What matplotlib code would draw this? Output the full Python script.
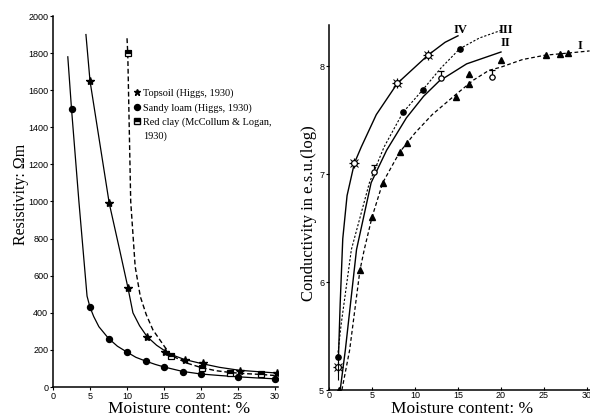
import matplotlib
matplotlib.use("Agg")
import matplotlib.pyplot as plt
from matplotlib.lines import Line2D

SERIF = ['Liberation Serif', 'DejaVu Serif']
SANS = ['Liberation Sans', 'DejaVu Sans']

# ---- left panel: resistivity vs moisture ----
sandy_x = [2.5, 5, 7.6, 10, 12.5, 15, 17.6, 20, 25, 30]
sandy_y = [1500, 430, 260, 189, 140, 108, 81, 70, 54, 43]
sandy_curve_x = [2.0, 2.5, 3.5, 4.6, 5.0, 5.5, 6.2, 7.5, 8.7, 10, 11.2, 12.5, 13.8, 15, 17.5, 20, 22.5, 25, 27.5, 30]
sandy_curve_y = [1780, 1500, 1000, 490, 430, 380, 325, 262, 220, 188, 160, 140, 122, 108, 84, 70, 62, 55, 49, 44]

topsoil_x = [5, 7.6, 10.1, 12.7, 15.1, 17.8, 20.2, 25.2, 30.3]
topsoil_y = [1650, 990, 535, 270, 189, 146, 130, 86, 76]
topsoil_curve_x = [4.45, 5, 6.3, 7.6, 9.0, 10.1, 10.8, 11.7, 12.7, 14, 15, 16.3, 17.8, 20, 22.5, 25.2, 30]
topsoil_curve_y = [1900, 1650, 1320, 990, 740, 540, 400, 330, 272, 225, 198, 170, 148, 127, 106, 90, 76]

clay_x = [10.1, 16.0, 20.1, 23.9, 28.1]
clay_y = [1800, 168, 103, 76, 70]
clay_curve_x = [10.0, 10.1, 10.3, 10.5, 11.1, 11.8, 12.6, 13.5, 15.1, 16, 18, 20, 22, 24, 26, 28, 30]
clay_curve_y = [1880, 1800, 1400, 1000, 650, 487, 390, 308, 216, 170, 130, 105, 88, 78, 72, 68, 62]

legend_labels = ['Topsoil (Higgs, 1930)', 'Sandy loam (Higgs, 1930)',
                 'Red clay (McCollum & Logan,', '1930)']

# ---- right panel: conductivity vs moisture ----
c1_x = [1.2, 3.6, 5.0, 6.25, 8.2, 9.1, 14.8, 16.3, 16.3, 20, 25.2, 26.9, 27.8]
c1_y = [5.0, 6.11, 6.60, 6.92, 7.20, 7.29, 7.71, 7.83, 7.93, 8.06, 8.10, 8.11, 8.12]
c1_curve_x = [1.5, 2.4, 3.6, 4.1, 5.0, 6.25, 8.2, 10, 12, 14.8, 16.8, 18.6, 20, 22.5, 25.1, 27.8, 30.3]
c1_curve_y = [5.0, 5.37, 6.11, 6.3, 6.6, 6.92, 7.2, 7.38, 7.55, 7.74, 7.87, 7.96, 7.99, 8.06, 8.10, 8.12, 8.14]

c2_x = [5.2, 13.0, 19.0]
c2_y = [7.02, 7.89, 7.90]
c2_curve_x = [1.3, 1.9, 3.2, 4.9, 6.7, 9.0, 11, 12.8, 16, 20]
c2_curve_y = [5.0, 5.37, 6.3, 6.92, 7.22, 7.52, 7.72, 7.86, 8.02, 8.13]

c3_x = [1.0, 8.6, 10.9, 15.2]
c3_y = [5.31, 7.57, 7.78, 8.16]
c3_curve_x = [1.0, 1.4, 2.6, 4.7, 6.4, 8.6, 10.9, 13, 15.2, 17.5, 20]
c3_curve_y = [5.31, 5.6, 6.3, 6.92, 7.25, 7.57, 7.78, 7.98, 8.16, 8.26, 8.33]

c4_x = [1.0, 2.95, 7.95, 11.5]
c4_y = [5.21, 7.10, 7.84, 8.10]
c4_curve_x = [1.1, 1.3, 1.6, 2.1, 2.95, 3.75, 5.5, 7.95, 11.5, 13.5, 15]
c4_curve_y = [5.3, 5.8, 6.4, 6.8, 7.10, 7.25, 7.55, 7.84, 8.10, 8.22, 8.28]

curve_names = ['I', 'II', 'III', 'IV']
name_x = [28.9, 20.0, 19.7, 14.5]
name_y = [8.19, 8.21, 8.33, 8.33]

fig = plt.figure(figsize=(5.9, 4.19), dpi=100)
ax1 = fig.add_axes([53/590, 1-387/419, 225/590, 371/419])
ax2 = fig.add_axes([329/590, 1-390/419, 261/590, 365/419])

for ax in (ax1, ax2):
    ax.spines['top'].set_visible(False)
    ax.spines['right'].set_visible(False)
    for s in ('left', 'bottom'):
        ax.spines[s].set_linewidth(1.1)

# left
ax1.plot(sandy_curve_x, sandy_curve_y, color='black', lw=0.9)
ax1.plot(topsoil_curve_x, topsoil_curve_y, color='black', lw=0.9)
ax1.plot(clay_curve_x, clay_curve_y, color='black', lw=1.0, dashes=(3.5, 2))
ax1.plot(sandy_x, sandy_y, 'o', color='black', ms=4.3)
ax1.plot(topsoil_x, topsoil_y, '*', color='black', ms=6)
ax1.plot(clay_x, clay_y, 's', color='black', ms=4, fillstyle='top',
         markerfacecoloralt='white', mew=0.9)

ax1.set_xlim(0, 30.4)
ax1.set_ylim(0, 2000)
ax1.set_xticks([0, 5, 10, 15, 20, 25, 30])
ax1.set_yticks(range(0, 2001, 200))
ax1.tick_params(labelsize=6.5, length=2.5, width=0.8, pad=1)
for lab in ax1.get_xticklabels() + ax1.get_yticklabels():
    lab.set_family(SANS)
ax1.set_xlabel('Moisture content: %', family=SERIF, fontsize=12.5)
ax1.xaxis.set_label_coords((179-53)/225, -0.038)
ax1.set_ylabel('Resistivity: \u03a9m', family=SERIF, fontsize=11.5)
ax1.yaxis.set_label_coords(-0.105, 0.52)

handles = [Line2D([], [], ls='none', marker='*', color='black', ms=5),
           Line2D([], [], ls='none', marker='o', color='black', ms=4.3),
           Line2D([], [], ls='none', marker='s', color='black', ms=4, fillstyle='top',
                  markerfacecoloralt='white'),
           Line2D([], [], ls='none')]
ax1.legend(handles, legend_labels, loc='upper left', bbox_to_anchor=(0.335, 0.818),
           frameon=False, borderpad=0, handlelength=0.6, handletextpad=0.35,
           labelspacing=0.45, prop={'family': SERIF, 'size': 7.4})

# right
ax2.plot(c1_curve_x, c1_curve_y, color='black', lw=0.9, dashes=(3, 2))
ax2.plot(c2_curve_x, c2_curve_y, color='black', lw=1.0)
ax2.plot(c3_curve_x, c3_curve_y, color='black', lw=0.8, dashes=(2, 1.6))
ax2.plot(c4_curve_x, c4_curve_y, color='black', lw=1.0)

ax2.plot(c1_x, c1_y, '^', color='black', ms=5)
ax2.plot(c3_x, c3_y, 'o', color='black', ms=3.8)
ax2.errorbar(c2_x, c2_y, yerr=[[0, 0, 0], [0.06, 0.06, 0.06]], fmt='o', color='black',
             mfc='white', ms=3.8, mew=0.9, elinewidth=0.9, capsize=2)
ax2.plot(c4_x, c4_y, '+', color='black', ms=7.5, mew=0.9)
ax2.plot(c4_x, c4_y, 'x', color='black', ms=5.5, mew=0.7)
ax2.plot(c4_x, c4_y, 'o', color='black', mfc='white', ms=4.2, mew=0.9)
ax2.errorbar([c4_x[0]], [c4_y[0]], yerr=[[0.12], [0.08]], fmt='none', ecolor='black',
             elinewidth=0.8)

for name, tx, ty in zip(curve_names, name_x, name_y):
    ax2.text(tx, ty, name, family=SERIF, fontsize=9, fontweight='bold', ha='left', va='center')

ax2.set_xlim(0, 30.35)
ax2.set_ylim(5, 8.38)
ax2.set_xticks([0, 5, 10, 15, 20, 25, 30])
ax2.set_yticks([5, 6, 7, 8])
ax2.tick_params(labelsize=6.5, length=2.5, width=0.8, pad=1)
ax2.tick_params(axis='x', direction='in')
for lab in ax2.get_xticklabels() + ax2.get_yticklabels():
    lab.set_family(SANS)
ax2.set_xlabel('Moisture content: %', family=SERIF, fontsize=12.5)
ax2.xaxis.set_label_coords((462-329)/261, -0.03)
ax2.set_ylabel('Conductivity in e.s.u.(log)', family=SERIF, fontsize=12)
ax2.yaxis.set_label_coords(-0.045, 0.485)

fig.savefig('out.png', dpi=100)
